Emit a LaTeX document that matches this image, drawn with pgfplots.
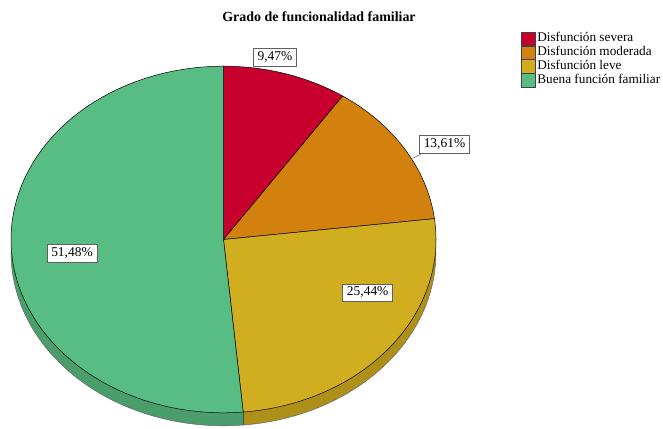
\documentclass[border=0pt]{standalone}
\usepackage{fontspec}
\setmainfont{Liberation Serif}
\usepackage{pgfplots}
\usepackage{pgfplotstable}
\pgfplotsset{compat=1.18}
\definecolor{cRed}{HTML}{C8002E}
\definecolor{cOrange}{HTML}{D2800E}
\definecolor{cYellow}{HTML}{D1AE1F}
\definecolor{cGreen}{HTML}{57BD82}
\definecolor{cYellowSide}{HTML}{AE9019}
\definecolor{cGreenSide}{HTML}{4A9E6C}
\definecolor{cBox}{HTML}{606060}
\pgfplotstableread{
label value
Severa 9.47
Moderada 13.61
Leve 25.44
Buena 51.48
}\pietable
\begin{document}
\begin{tikzpicture}
\pgfplotstablegetelem{0}{value}\of\pietable \let\vA\pgfplotsretval
\pgfplotstablegetelem{1}{value}\of\pietable \let\vB\pgfplotsretval
\pgfplotstablegetelem{2}{value}\of\pietable \let\vC\pgfplotsretval
\pgfplotstablegetelem{3}{value}\of\pietable \let\vD\pgfplotsretval
\pgfmathsetmacro\tA{90}
\pgfmathsetmacro\tB{90-3.6*\vA}
\pgfmathsetmacro\tC{\tB-3.6*\vB}
\pgfmathsetmacro\tD{\tC-3.6*\vC}
\pgfmathsetmacro\tE{\tD-3.6*\vD}
\pgfmathsetmacro\tDx{\tD+1.5}
\def\cx{223.5}\def\cy{189.5}\def\rx{212.5}\def\ry{173.3}\def\dd{13}
\pgfmathsetmacro\xD{\cx+\rx*cos(\tD)}
\pgfmathsetmacro\yD{\cy+\ry*sin(\tD)}
\pgfmathsetmacro\yDb{\yD-\dd}
\begin{axis}[
  width=663bp, height=429bp, scale only axis,
  xmin=0, xmax=663, ymin=0, ymax=429,
  hide axis, clip=false,
  legend style={at={(axis cs:520.7,397.3)}, anchor=north west, draw=none, fill=none,
    inner sep=0pt, outer sep=0pt, row sep=0pt, column sep=1.5bp,
    font=\fontsize{13.3}{13.3}\selectfont,
    nodes={inner sep=0pt, text height=9.5bp, text depth=3.8bp}},
  legend cell align=left,
  legend image code/.code={\draw[#1, draw=black!75, line width=0.6bp] (0bp,-6.65bp) rectangle (14.5bp,6.65bp);},
]
\coordinate (BL) at (axis cs:0,0);
\coordinate (TR) at (axis cs:663,429);
% side bands (3D thickness)
\addplot[forget plot, fill=cGreenSide, draw=none, domain=0:2, samples=161, variable=\s]
  ({\cx+\rx*cos(-180+(\tDx+180)*(1-abs(1-\s)))},{\cy+\ry*sin(-180+(\tDx+180)*(1-abs(1-\s)))-\dd*(\s>1)}) -- cycle;
\addplot[forget plot, fill=cYellowSide, draw=none, domain=0:2, samples=161, variable=\s]
  ({\cx+\rx*cos(\tD+(0-\tD)*(1-abs(1-\s)))},{\cy+\ry*sin(\tD+(0-\tD)*(1-abs(1-\s)))-\dd*(\s>1)}) -- cycle;
\addplot[forget plot, draw=black!60, line width=0.5bp, domain=-180:0, samples=120, variable=\t]
  ({\cx+\rx*cos(\t)},{\cy+\ry*sin(\t)-\dd});
\addplot[forget plot, draw=black!70, line width=0.5bp] coordinates {(\xD,\yD) (\xD,\yDb)};
% top faces
\addplot[fill=cRed, draw=black, line width=0.5bp, domain=\tB:\tA, samples=60, variable=\t]
  ({\cx+\rx*cos(\t)},{\cy+\ry*sin(\t)}) -- (axis cs:\cx,\cy) -- cycle;
\addlegendentry{Disfunción severa}
\addplot[fill=cOrange, draw=black, line width=0.5bp, domain=\tC:\tB, samples=60, variable=\t]
  ({\cx+\rx*cos(\t)},{\cy+\ry*sin(\t)}) -- (axis cs:\cx,\cy) -- cycle;
\addlegendentry{Disfunción moderada}
\addplot[fill=cYellow, draw=black, line width=0.5bp, domain=\tD:\tC, samples=80, variable=\t]
  ({\cx+\rx*cos(\t)},{\cy+\ry*sin(\t)}) -- (axis cs:\cx,\cy) -- cycle;
\addlegendentry{Disfunción leve}
\addplot[fill=cGreen, draw=black, line width=0.5bp, domain=\tE:\tD, samples=120, variable=\t]
  ({\cx+\rx*cos(\t)},{\cy+\ry*sin(\t)}) -- (axis cs:\cx,\cy) -- cycle;
\addlegendentry{Buena función familiar}
% labels
\tikzset{lbl/.style={draw=cBox, fill=white, line width=0.6bp, inner xsep=4.2bp, inner ysep=2.5bp,
  font=\fontsize{13.5}{13.5}\selectfont, text height=9.6bp, text depth=3.2bp}}
\draw[cBox, line width=0.6bp] (axis cs:412.7,270.7) -- (axis cs:420.7,274.7);
\node[lbl] at (axis cs:275,372) {9,47\%};
\node[lbl] at (axis cs:444.5,285) {13,61\%};
\node[lbl] at (axis cs:367.7,136.2) {25,44\%};
\node[lbl] at (axis cs:72,175.5) {51,48\%};
\node[font=\bfseries\fontsize{14}{14}\selectfont] at (axis cs:319,412) {Grado de funcionalidad familiar};
\end{axis}
\pgfresetboundingbox
\path[use as bounding box] (BL) rectangle (TR);
\end{tikzpicture}
\end{document}
